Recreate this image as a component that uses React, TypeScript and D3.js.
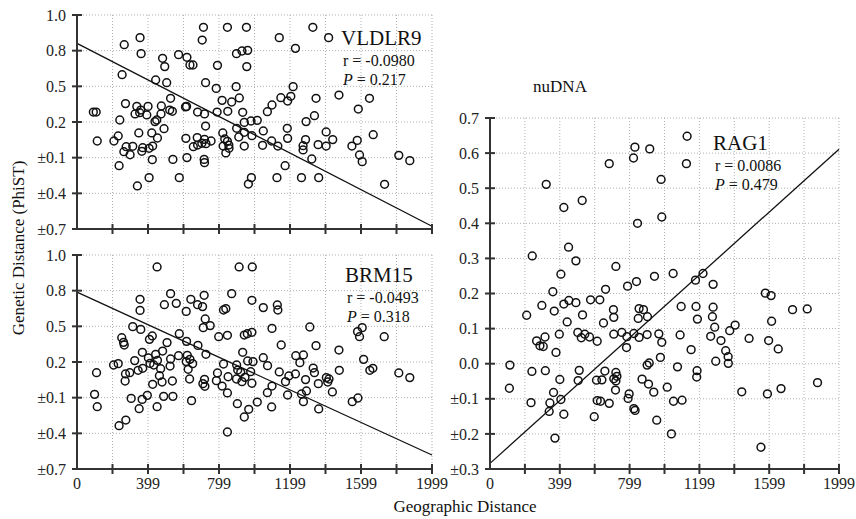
import React from 'react';
import * as d3 from 'd3';

// x ticks every ~199.9 units, labelled every other tick
const xTicks = [0, 199.9, 399.8, 599.7, 799.6, 999.5, 1199.4, 1399.3, 1599.2, 1799.1, 1999];
const xTickLabels = ['0', '', '399', '', '799', '', '1199', '', '1599', '', '1999'];

const leftYTicks = [1.0, 0.7167, 0.4333, 0.15, -0.1333, -0.4167, -0.7];
const leftYTickLabels = ['1.0', '0.8', '0.5', '0.2', '±0.1', '±0.4', '±0.7'];

const rightYTicks = [0.7, 0.6, 0.5, 0.4, 0.3, 0.2, 0.1, 0.0, -0.1, -0.2, -0.3];
const rightYTickLabels = ['0.7', '0.6', '0.5', '0.4', '0.3', '0.2', '0.1', '0.0', '±0.1', '±0.2', '±0.3'];

const vldlr9Points: [number, number][] = [
  [712, 0.902], [847, 0.902], [954, 0.902], [705, 0.801], [355, 0.820], [266, 0.764], [361, 0.693], [572, 0.685],
  [619, 0.664], [482, 0.656], [494, 0.590], [636, 0.603], [653, 0.603], [791, 0.600], [898, 0.693], [929, 0.714],
  [961, 0.719], [956, 0.590], [254, 0.526], [443, 0.484], [505, 0.462], [724, 0.462], [784, 0.417], [896, 0.431],
  [914, 0.341], [817, 0.322], [871, 0.309], [527, 0.338], [273, 0.296], [337, 0.274], [400, 0.274], [475, 0.277],
  [617, 0.274], [611, 0.270], [359, 0.245], [327, 0.214], [353, 0.224], [393, 0.206], [473, 0.214], [522, 0.245],
  [537, 0.235], [679, 0.229], [718, 0.214], [789, 0.229], [849, 0.235], [933, 0.227], [92, 0.229], [108, 0.229],
  [241, 0.166], [449, 0.166], [439, 0.153], [490, 0.097], [942, 0.147], [980, 0.158], [899, 0.100], [724, 0.118],
  [348, 0.063], [421, 0.063], [453, 0.023], [613, 0.020], [677, 0.026], [655, -0.046], [679, -0.033], [718, 0.012],
  [703, -0.019], [726, -0.022], [755, -0.001], [821, 0.063], [832, 0.015], [823, -0.041], [847, -0.004], [855, -0.033],
  [838, -0.096], [856, -0.059], [911, 0.031], [942, -0.041], [942, 0.068], [985, 0.041], [114, -0.001], [208, -0.001],
  [232, 0.039], [277, -0.046], [314, -0.043], [264, -0.086], [299, -0.110], [370, -0.054], [365, -0.083], [406, -0.059],
  [426, -0.041], [424, -0.149], [540, -0.147], [619, -0.133], [716, -0.147], [718, -0.173], [237, -0.197], [406, -0.292],
  [576, -0.292], [340, -0.358], [965, -0.343], [982, -0.292],
  [1139, 0.820], [1328, 0.902], [1230, 0.735], [1417, 0.820], [1217, 0.431], [1148, 0.343], [1186, 0.317], [1204, 0.354],
  [1346, 0.338], [1475, 0.364], [1647, 0.338], [1584, 0.253], [1098, 0.285], [1072, 0.232], [1015, 0.163], [1290, 0.153],
  [1337, 0.200], [1049, 0.079], [1184, 0.100], [1186, 0.020], [1403, 0.071], [1440, 0.010], [1358, -0.030], [1403, -0.041],
  [1287, 0.010], [1273, -0.038], [1273, -0.072], [1096, -0.001], [1045, -0.035], [1131, -0.041], [1578, 0.004], [1548, -0.041],
  [1668, 0.049], [1322, -0.144], [1591, -0.112], [1606, -0.165], [1812, -0.115], [1874, -0.157], [1172, -0.197], [1126, -0.292],
  [1264, -0.292], [1361, -0.292], [1732, -0.345],
];

const brm15Points: [number, number][] = [
  [451, 0.905], [913, 0.905], [987, 0.905], [355, 0.648], [355, 0.560], [527, 0.693], [492, 0.605], [559, 0.616],
  [615, 0.552], [641, 0.648], [679, 0.605], [707, 0.590], [716, 0.680], [871, 0.693], [985, 0.640], [825, 0.563],
  [838, 0.574], [722, 0.492], [711, 0.423], [750, 0.439], [314, 0.431], [359, 0.409], [424, 0.357], [408, 0.330],
  [252, 0.343], [262, 0.306], [266, 0.285], [576, 0.375], [507, 0.304], [617, 0.314], [681, 0.282], [798, 0.351],
  [847, 0.362], [942, 0.364], [959, 0.375], [985, 0.386], [368, 0.227], [443, 0.211], [482, 0.237], [325, 0.161],
  [402, 0.182], [411, 0.139], [453, 0.163], [527, 0.174], [572, 0.200], [621, 0.203], [636, 0.171], [651, 0.137],
  [615, 0.153], [726, 0.211], [524, 0.118], [471, 0.097], [933, 0.227], [961, 0.158], [991, 0.153], [825, 0.134],
  [899, 0.126], [206, 0.126], [232, 0.137], [110, 0.065], [273, 0.055], [297, 0.065], [344, 0.084], [370, 0.100],
  [432, 0.126], [464, 0.041], [271, -0.001], [426, -0.027], [479, -0.009], [537, -0.001], [626, 0.092], [634, 0.015],
  [718, 0.012], [709, -0.022], [720, -0.043], [791, 0.063], [785, 0.002], [817, -0.041], [851, 0.033], [847, -0.096],
  [905, 0.086], [898, 0.015], [922, 0.068], [929, -0.006], [946, 0.028], [978, 0.073], [985, -0.019], [99, -0.107],
  [114, -0.205], [305, -0.139], [350, -0.221], [367, -0.147], [396, -0.115], [488, -0.123], [540, -0.123], [645, -0.157],
  [451, -0.205], [903, -0.181], [967, -0.226], [942, -0.287], [1015, -0.168], [275, -0.311], [237, -0.356], [847, -0.406],
  [1049, 0.582], [1128, 0.603], [1131, 0.563], [1098, 0.417], [1311, 0.428], [1150, 0.285], [1346, 0.280], [1475, 0.245],
  [1580, 0.391], [1606, 0.423], [1591, 0.351], [1730, 0.351], [1049, 0.184], [1073, 0.121], [1232, 0.200], [1275, 0.206],
  [1255, 0.145], [1330, 0.102], [1337, 0.065], [1477, 0.084], [1614, 0.171], [1649, 0.084], [1666, 0.100], [1812, 0.063],
  [1874, 0.026], [1139, 0.071], [1193, 0.039], [1230, 0.055], [1174, -0.006], [1098, -0.041], [1072, -0.094], [1186, -0.112],
  [1287, 0.010], [1264, -0.104], [1292, -0.080], [1275, -0.165], [1359, -0.022], [1404, 0.026], [1419, 0.015], [1412, -0.009],
  [1438, -0.088], [1550, -0.165], [1582, -0.136], [1361, -0.223], [1096, -0.207],
];

const rag1Points: [number, number][] = [
  [830, 0.617], [915, 0.612], [822, 0.586], [683, 0.570], [980, 0.525], [322, 0.511], [528, 0.465], [423, 0.445],
  [845, 0.400], [984, 0.418], [450, 0.332], [242, 0.307], [492, 0.293], [721, 0.277], [406, 0.255], [942, 0.249],
  [839, 0.234], [788, 0.221], [662, 0.212], [360, 0.205],
  [1129, 0.648], [1125, 0.570], [1049, 0.257], [1177, 0.238], [1220, 0.257], [1278, 0.226],
  [210, 0.138], [297, 0.166], [368, 0.150], [423, 0.170], [452, 0.180], [492, 0.174], [576, 0.182], [629, 0.182],
  [530, 0.139], [442, 0.119], [650, 0.116], [707, 0.154], [709, 0.132], [854, 0.157], [879, 0.154], [849, 0.129],
  [902, 0.134], [267, 0.065], [315, 0.076], [286, 0.051], [305, 0.049], [397, 0.084], [378, 0.032], [503, 0.089],
  [523, 0.074], [543, 0.084], [570, 0.076], [614, 0.064], [709, 0.084], [755, 0.089], [784, 0.077], [782, 0.046],
  [824, 0.086], [854, 0.075], [900, 0.083], [967, 0.085], [984, 0.061], [976, 0.018], [114, -0.004], [240, -0.022],
  [317, -0.020], [511, -0.019], [400, -0.045], [505, -0.048], [658, -0.021], [610, -0.047], [641, -0.046], [721, -0.025],
  [727, -0.036], [709, -0.043], [721, -0.049], [719, -0.075], [900, -0.004], [912, 0.002], [871, -0.044], [908, -0.058],
  [938, -0.081], [111, -0.070], [364, -0.082], [343, -0.112], [235, -0.111], [406, -0.102], [339, -0.136], [423, -0.144],
  [614, -0.105], [633, -0.107], [683, -0.113], [597, -0.151], [797, -0.086], [791, -0.099], [824, -0.128], [831, -0.133],
  [955, -0.161], [372, -0.212],
  [1577, 0.201], [1610, 0.194], [1095, 0.163], [1180, 0.163], [1278, 0.161], [1188, 0.127], [1274, 0.134], [1287, 0.104],
  [1404, 0.110], [1373, 0.094], [1264, 0.078], [1323, 0.066], [1089, 0.082], [1152, 0.040], [1350, 0.037], [1364, 0.020],
  [1365, 0.001], [1293, 0.007], [1074, -0.009], [1186, -0.020], [1184, -0.038], [1484, 0.072], [1596, 0.066], [1651, 0.042],
  [1613, 0.121], [1733, 0.154], [1817, 0.156], [1015, -0.067], [1051, -0.107], [1100, -0.104], [1442, -0.080], [1589, -0.086],
  [1667, -0.071], [1876, -0.054], [1039, -0.200], [1552, -0.238],
];

// regression lines: value at x = 0 and at x = 1999
const vldlr9Fit: [number, number][] = [[0, 0.775], [1999, -0.678]];
const brm15Fit: [number, number][] = [[0, 0.705], [1999, -0.589]];
const rag1Fit: [number, number][] = [[0, -0.284], [1999, 0.611]];

const FONT = "'Liberation Serif', 'Times New Roman', serif";

type PanelProps = {
  left: number; right: number; top: number; bottom: number;
  yDomain: [number, number];
  yTicks: number[]; yLabels: string[];
  showXLabels: boolean;
  points: [number, number][];
  fit: [number, number][];
  title: string; rText: string; pText: string;
  tx: number; ty: number;
};

function Panel(p: PanelProps) {
  const x = d3.scaleLinear().domain([0, 1999]).range([p.left, p.right]);
  const y = d3.scaleLinear().domain(p.yDomain).range([p.bottom, p.top]);
  const line = d3.line<[number, number]>().x(d => x(d[0])).y(d => y(d[1]));
  return (
    <g>
      {xTicks.map((t, i) => (
        <line key={'gx' + i} x1={x(t)} x2={x(t)} y1={p.top} y2={p.bottom}
          stroke="#b0b0b0" strokeWidth={1} strokeDasharray="1,2" />
      ))}
      {p.yTicks.map((t, i) => (
        <line key={'gy' + i} x1={p.left} x2={p.right} y1={y(t)} y2={y(t)}
          stroke="#b0b0b0" strokeWidth={1} strokeDasharray="1,2" />
      ))}
      {p.points.map((d, i) => (
        <circle key={'c' + i} cx={x(d[0])} cy={y(d[1])} r={3.9}
          fill="none" stroke="#111" strokeWidth={1.5} />
      ))}
      <path d={line(p.fit) || ''} fill="none" stroke="#111" strokeWidth={1.3} />
      <line x1={p.left} x2={p.left} y1={p.top} y2={p.bottom} stroke="#333" strokeWidth={2} />
      <line x1={p.left} x2={p.right} y1={p.bottom} y2={p.bottom} stroke="#333" strokeWidth={2} />
      {p.yTicks.map((t, i) => (
        <g key={'ty' + i}>
          <line x1={p.left - 5} x2={p.left + 5} y1={y(t)} y2={y(t)} stroke="#333" strokeWidth={2} />
          <text x={p.left - 11} y={y(t)} dy="0.35em" textAnchor="end" fontSize={16} fontFamily={FONT} fill="#222">
            {p.yLabels[i]}
          </text>
        </g>
      ))}
      {xTicks.map((t, i) => (
        <g key={'tx' + i}>
          {i > 0 && <line x1={x(t)} x2={x(t)} y1={p.bottom - 5} y2={p.bottom + 5} stroke="#333" strokeWidth={2} />}
          {p.showXLabels && xTickLabels[i] !== '' && (
            <text x={x(t)} y={p.bottom + 20} textAnchor="middle" fontSize={16} fontFamily={FONT} fill="#222">
              {xTickLabels[i]}
            </text>
          )}
        </g>
      ))}
      <text x={p.tx - 2} y={p.ty} fontSize={21} fontFamily={FONT} fill="#111">{p.title}</text>
      <text x={p.tx} y={p.ty + 21} fontSize={16} fontFamily={FONT} fill="#111">{p.rText}</text>
      <text x={p.tx} y={p.ty + 40} fontSize={16} fontFamily={FONT} fill="#111">
        <tspan fontStyle="italic">P</tspan>{' = ' + p.pText}
      </text>
    </g>
  );
}

export default function App() {
  return (
    <svg width={856} height={519} style={{ position: 'absolute', left: 0, top: 0, background: '#fff' }}>
      <Panel left={77} right={432} top={15} bottom={229} yDomain={[-0.7, 1.0]}
        yTicks={leftYTicks} yLabels={leftYTickLabels} showXLabels={false}
        points={vldlr9Points} fit={vldlr9Fit} title="VLDLR9" rText="r = -0.0980" pText="0.217" tx={343} ty={45} />
      <Panel left={77} right={432} top={255} bottom={469} yDomain={[-0.7, 1.0]}
        yTicks={leftYTicks} yLabels={leftYTickLabels} showXLabels={true}
        points={brm15Points} fit={brm15Fit} title="BRM15" rText="r = -0.0493" pText="0.318" tx={347} ty={282} />
      <Panel left={490} right={839} top={118} bottom={469} yDomain={[-0.3, 0.7]}
        yTicks={rightYTicks} yLabels={rightYTickLabels} showXLabels={true}
        points={rag1Points} fit={rag1Fit} title="RAG1" rText="r = 0.0086" pText="0.479" tx={715} ty={150} />
      <text x={560} y={92} textAnchor="middle" fontSize={17} fontFamily={FONT} fill="#111">nuDNA</text>
      <text transform="translate(24,248) rotate(-90)" textAnchor="middle" fontSize={17} fontFamily={FONT} fill="#111">
        Genetic Distance (PhiST)
      </text>
      <text x={465} y={512} textAnchor="middle" fontSize={17} fontFamily={FONT} fill="#111">Geographic Distance</text>
    </svg>
  );
}
